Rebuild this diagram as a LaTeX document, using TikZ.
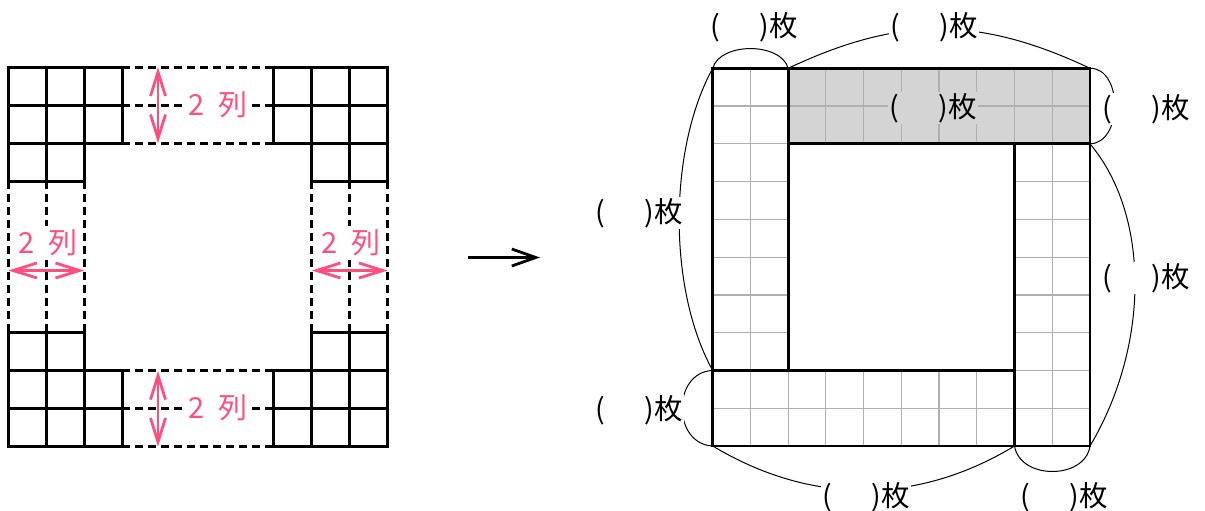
\documentclass[tikz,border=0pt]{standalone}
\usepackage{fontspec}
\newfontfamily\jp{Noto Sans CJK JP}
\usetikzlibrary{arrows.meta}
\definecolor{pinkc}{HTML}{FF4F7E}
\definecolor{barfill}{HTML}{D4D4D4}
\definecolor{gridc}{HTML}{B0B0B0}
\begin{document}
\begin{tikzpicture}[x=1pt,y=-1pt,
  cellline/.style={line width=2.9pt},
  dashline/.style={line width=2.9pt, dash pattern=on 8pt off 5pt},
  pinkarrow/.style={draw=pinkc, line width=2.8pt, {Straight Barb[length=24pt,width=15pt]}-{Straight Barb[length=24pt,width=15pt]}},
  gline/.style={draw=gridc, line width=1.2pt},
  barline/.style={line width=2.9pt},
  bracecurve/.style={line width=1pt},
  lab/.style={font=\jp\fontsize{28.5}{30}\selectfont, fill=white, inner sep=1pt},
  pinklab/.style={font=\jp\fontsize{29}{30}\selectfont, text=pinkc, fill=white, inner xsep=2pt, inner ysep=4pt}
]
\useasboundingbox (0,0) rectangle (1205,511);

% ---------- left figure ----------
\begin{scope}[shift={(8.3,67.3)}, x=37.94pt, y=-37.94pt]
  % dashed parts
  \foreach \j in {0,1,2,8,9,10} \draw[dashline] (3,\j) -- (7,\j);
  \foreach \i in {0,1,2,8,9,10} \draw[dashline] (\i,3) -- (\i,7);
  % solid cells
  \foreach \i/\j in {0/0,1/0,2/0,0/1,1/1,2/1,0/2,1/2,
                     7/0,8/0,9/0,7/1,8/1,9/1,8/2,9/2,
                     0/7,1/7,0/8,1/8,2/8,0/9,1/9,2/9,
                     8/7,9/7,7/8,8/8,9/8,7/9,8/9,9/9}
    \draw[cellline] (\i,\j) rectangle ++(1,1);
\end{scope}

% pink labels
\node[pinklab] (lt) at (218,105) {2\hspace{0.5em}列};
\node[pinklab] (lb) at (218,408) {2\hspace{0.5em}列};
\node[pinklab, inner xsep=1pt] (ll) at (48,243) {2\hspace{0.5em}列};
\node[pinklab, inner xsep=1pt] (lr) at (351,243) {2\hspace{0.5em}列};

% pink arrows
\coordinate (pt1) at (158,67.3);  \coordinate (pt2) at (158,143.2);
\coordinate (pb1) at (158,370.9); \coordinate (pb2) at (158,446.7);
\coordinate (pl1) at (8.3,270.5); \coordinate (pl2) at (84.2,270.5);
\coordinate (pr1) at (311.8,270.5); \coordinate (pr2) at (387.7,270.5);
\draw[pinkarrow] (pt1) -- (pt2);
\draw[pinkarrow] (pb1) -- (pb2);
\draw[pinkarrow] (pl1) -- (pl2);
\draw[pinkarrow] (pr1) -- (pr2);

% ---------- middle arrow ----------
\coordinate (ArrS) at (468,257.5);
\coordinate (ArrE) at (540,257.5);
\draw[line width=2.8pt, -{Straight Barb[length=24pt,width=17pt]}] (ArrS) -- (ArrE);

% ---------- right figure ----------
\begin{scope}[shift={(712.7,68.3)}, x=37.73pt, y=-37.77pt]
  \fill[barfill] (2,0) rectangle (10,2);
  % grid lines
  \draw[gline] (1,0) -- (1,8);
  \foreach \j in {1,...,7} \draw[gline] (0,\j) -- (2,\j);
  \foreach \i in {3,...,9} \draw[gline] (\i,0) -- (\i,2);
  \draw[gline] (2,1) -- (10,1);
  \foreach \j in {3,...,9} \draw[gline] (8,\j) -- (10,\j);
  \draw[gline] (9,2) -- (9,10);
  \foreach \i in {1,...,7} \draw[gline] (\i,8) -- (\i,10);
  \draw[gline] (0,9) -- (8,9);
  % bars
  \draw[barline] (0,0) rectangle (2,8);
  \draw[barline] (2,0) rectangle (10,2);
  \draw[barline] (8,2) rectangle (10,10);
  \draw[barline] (0,8) rectangle (8,10);
  % corner coordinates
  \coordinate (TL) at (0,0);
  \coordinate (T2) at (2,0);
  \coordinate (TR) at (10,0);
  \coordinate (R2) at (10,2);
  \coordinate (BR) at (10,10);
  \coordinate (B8) at (8,10);
  \coordinate (BL) at (0,10);
  \coordinate (L8) at (0,8);
\end{scope}

% curves
\draw[bracecurve] (TL) .. controls (720,42) and (781,42) .. (T2);
\draw[bracecurve] (T2) .. controls (899,16) and (979,16) .. (TR);
\draw[bracecurve] (TR) .. controls (1123,68) and (1123,143) .. (R2);
\draw[bracecurve] (TL) .. controls (668,150) and (668,290) .. (L8);
\draw[bracecurve] (R2) .. controls (1150,215) and (1150,345) .. (BR);
\draw[bracecurve] (L8) .. controls (672,372) and (672,444) .. (BL);
\draw[bracecurve] (BL) .. controls (811,505) and (917,505) .. (B8);
\draw[bracecurve] (B8) .. controls (1020,480) and (1085,480) .. (BR);

% labels
\node[lab] (n1) at (754,27) {(\hspace{1.4em})枚};
\node[lab] (n2) at (934,27) {(\hspace{1.4em})枚};
\node[lab, fill=barfill] (n3) at (933,108) {(\hspace{1.4em})枚};
\node[lab] (n4) at (1146,109) {(\hspace{1.4em})枚};
\node[lab] (n5) at (639,213) {(\hspace{1.4em})枚};
\node[lab] (n6) at (1146,278) {(\hspace{1.4em})枚};
\node[lab] (n7) at (639,410) {(\hspace{1.4em})枚};
\node[lab] (n8) at (866,497) {(\hspace{1.4em})枚};
\node[lab] (n9) at (1064,497) {(\hspace{1.4em})枚};
\end{tikzpicture}
\end{document}
